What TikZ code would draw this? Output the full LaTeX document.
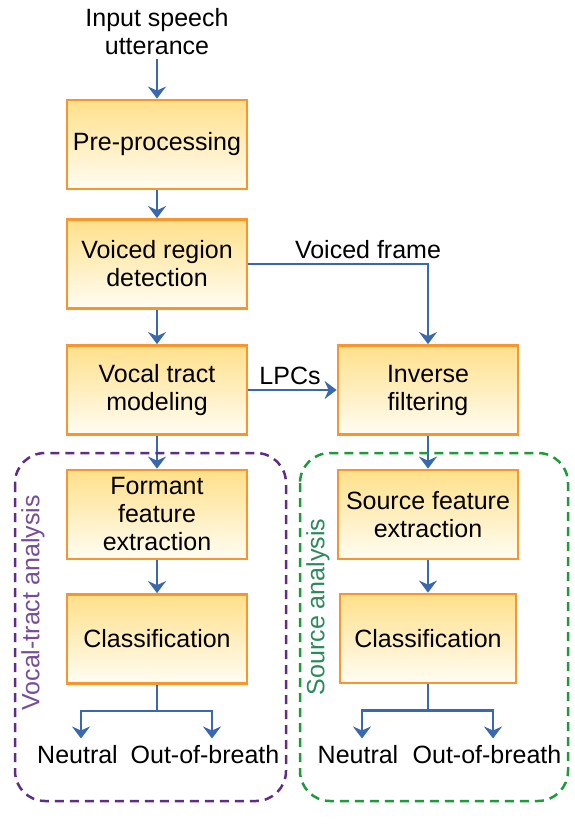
\documentclass[tikz,border=0pt]{standalone}
\usepackage{fontspec}
\setmainfont{Liberation Sans}
\usepackage{tikz}
\usetikzlibrary{shapes,arrows,arrows.meta,backgrounds,positioning}
\definecolor{boxline}{HTML}{F7952F}
\definecolor{boxtop}{HTML}{FFE08A}
\definecolor{boxbot}{HTML}{FFFDF3}
\definecolor{flowblue}{HTML}{3A68AE}
\definecolor{vtpurple}{HTML}{5E2E86}
\definecolor{srcgreen}{HTML}{1E9A3C}
\definecolor{srctext}{HTML}{2A8A5C}
\tikzstyle{block}=[rectangle, draw=boxline, line width=2.8pt, top color=boxtop, bottom color=boxbot, minimum width=180pt, minimum height=89pt, align=center, font=\fontsize{25}{28}\selectfont]
\tikzstyle{txt}=[align=center, font=\fontsize{25}{28}\selectfont]
\tikzstyle{outlbl}=[txt, outer sep=4pt]
\tikzstyle{flow}=[draw=flowblue, line width=2.7pt, -{Stealth[length=12pt,width=18pt,inset=4pt]}]
\tikzstyle{group}=[dashed, dash pattern=on 9pt off 6pt, line width=2.5pt, rounded corners=30pt]

\begin{document}
\begin{tikzpicture}[x=1pt,y=-1pt]
\useasboundingbox (0,0) rectangle (574,825);

%Main column
\node[txt] (input) at (157,32){Input speech\\utterance};
\node[block] (pre) at (157,144.5){Pre-processing};
\node[block] (vrd) at (157,264){Voiced region\\detection};
\node[block] (vtm) at (157,390){Vocal tract\\modeling};
\node[block] (inv) at (428,390){Inverse\\filtering};
%Vocal-tract side
\node[block] (fmt) at (157,514.5){Formant\\feature\\extraction};
\node[block] (clsL) at (157,639){Classification};
\node[outlbl] (neutL) at (77.5,755){Neutral};
\node[outlbl] (breathL) at (205,755){Out-of-breath};
%Source side
\node[block] (src) at (428,514.5){Source feature\\extraction};
\node[block, minimum width=176pt] (clsR) at (428,638.5){Classification};
\node[outlbl] (neutR) at (358,755){Neutral};
\node[outlbl] (breathR) at (487,755){Out-of-breath};
%Labels on connectors
\node[txt] (vframe) at (368,250){Voiced frame};
\node[txt] (lpcs) at (290,376){LPCs};

%Connectors
\draw[flow] (input) -- (pre);
\draw[flow] (pre) -- (vrd);
\draw[flow] (vrd) -- (vtm);
\draw[flow] (vrd.east) -| (inv.north);
\draw[flow] (vtm.east) -- (inv.west);
\draw[flow] (vtm) -- (fmt);
\draw[flow] (fmt) -- (clsL);
\draw[flow] (inv) -- (src);
\draw[flow] (src) -- (clsR);
\draw[flow] (clsL.south) -- ++(0,26) coordinate (splitL) -| ([xshift=3.5pt]neutL.north);
\draw[flow] (splitL) -| ([xshift=7pt]breathL.north);
\draw[flow] (clsR.south) -- ++(0,26) coordinate (splitR) -| ([xshift=4pt]neutR.north);
\draw[flow] (splitR) -| ([xshift=6pt]breathR.north);

%Analysis groups
\draw[group, vtpurple] (15,453) rectangle (286,801);
\draw[group, srcgreen] (300,453) rectangle (568,801);
\node[txt, rotate=90, text=vtpurple!85!white] (vtaLabel) at (33,603){Vocal-tract analysis};
\node[txt, rotate=90, text=srctext] (srcLabel) at (318,607){Source analysis};

\end{tikzpicture}
\end{document}
